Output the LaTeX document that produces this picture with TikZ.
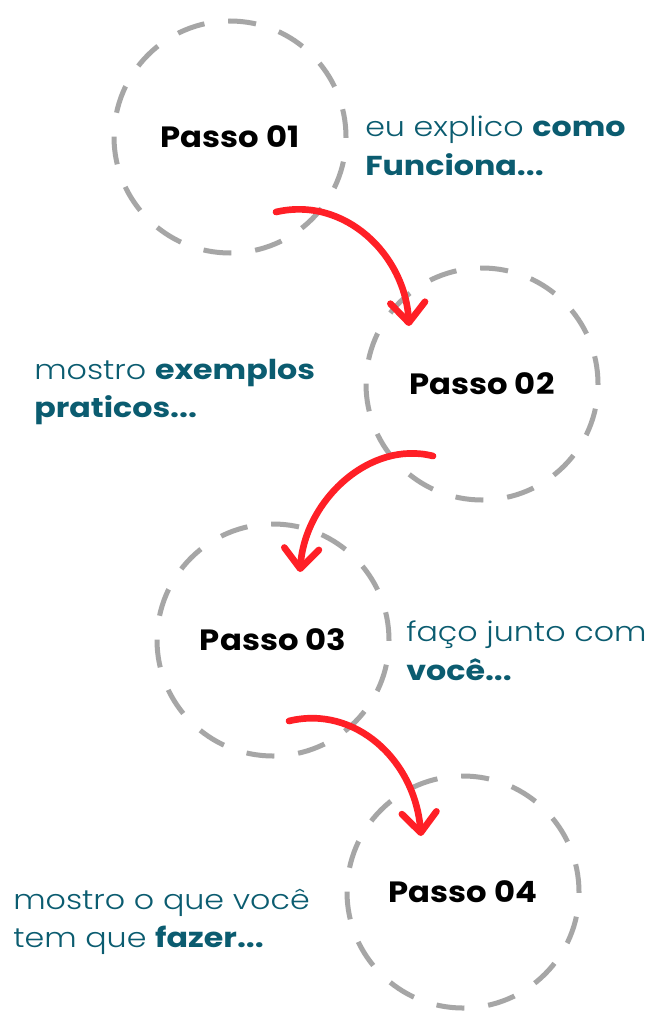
\documentclass[tikz,border=0pt]{standalone}
\usepackage{fontspec}
\setmainfont{Poppins}[UprightFont={* Light},BoldFont={* Bold},FakeStretch=1.16]
\newfontfamily\stepfont{Poppins}[UprightFont={* Bold},FakeStretch=1.1]
\usetikzlibrary{arrows.meta}
\definecolor{dashgray}{HTML}{A6A6A6}
\definecolor{arrowred}{HTML}{FF1F26}
\definecolor{teal}{HTML}{0B5C70}
\tikzset{
  stepcircle/.style={circle,draw=dashgray,line width=3.75pt,dash pattern=on 21pt off 18pt,
    minimum size=174pt,inner sep=0pt,font=\stepfont\fontsize{22pt}{26pt}\selectfont,text=black},
  desc/.style={anchor=west,align=left,inner sep=0pt,text=teal,
    font=\fontsize{20.5pt}{29pt}\selectfont},
  redarrow/.style={draw=arrowred,line width=5pt,line cap=round,
    -{Straight Barb[length=15pt,width=26pt,line cap=round,line join=round]}}
}
\begin{document}
\begin{tikzpicture}[x=0.75pt,y=-0.75pt]
\useasboundingbox (0,0) rectangle (666,1024);
\fill[white] (0,0) rectangle (666,1024);
\node[stepcircle] (s1) at (230,137) {Passo 01};
\node[stepcircle] (s2) at (482,384) {Passo 02};
\node[stepcircle] (s3) at (273,640) {Passo 03};
\node[stepcircle] (s4) at (463,892) {Passo 04};
\node[desc] (t1) at (365,146) {eu explico \textbf{como}\\\textbf{Funciona...}};
\node[desc] (t2) at (34,392) {mostro \textbf{exemplos}\\\textbf{praticos...}};
\node[desc] (t3) at (406,651) {faço junto com\\\textbf{você...}};
\node[desc] (t4) at (13,922) {mostro o que você\\tem que \textbf{fazer...}};
\coordinate (a1s) at (276,212);
\coordinate (a1e) at (409,326);
\coordinate (a2s) at (433,456);
\coordinate (a2e) at (300,572);
\coordinate (a3s) at (289,721);
\coordinate (a3e) at (421,836);
\draw[redarrow] (a1s) .. controls (345,196) and (405,255) .. (a1e);
\draw[redarrow] (a2s) .. controls (370,440) and (305,500) .. (a2e);
\draw[redarrow] (a3s) .. controls (355,705) and (415,760) .. (a3e);
\end{tikzpicture}
\end{document}
